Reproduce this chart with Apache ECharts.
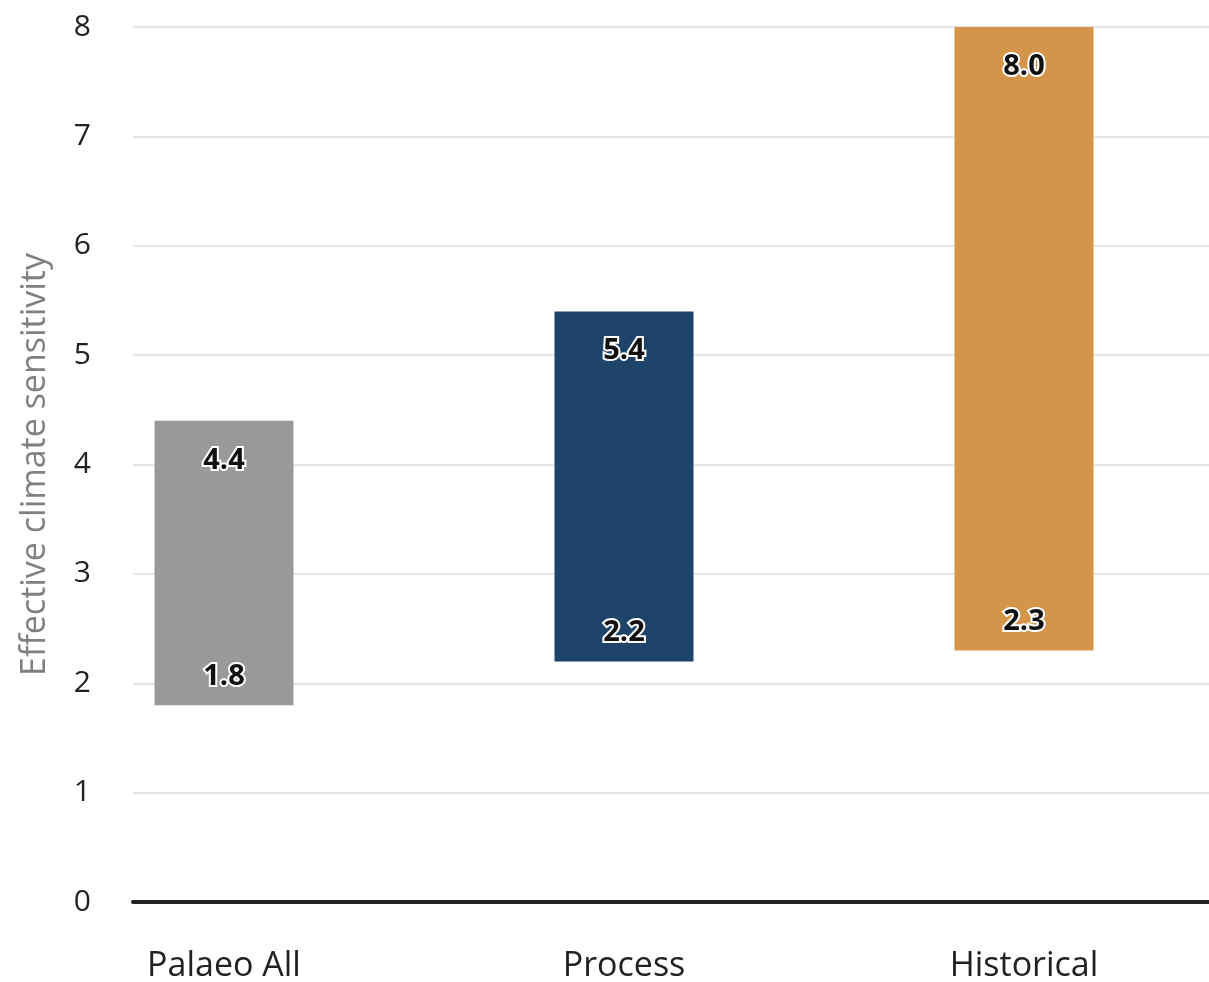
<!DOCTYPE html>
<html>
<head>
<meta charset="utf-8">
<script src="https://cdn.jsdelivr.net/npm/echarts@6/dist/echarts.min.js"></script>
<style>
  html, body { margin: 0; padding: 0; background: #ffffff; }
  #chart { width: 1209px; height: 982px; }
</style>
</head>
<body>
<div id="chart"></div>
<script>
// Ranges of effective climate sensitivity by line of evidence
const categories = ['Palaeo All', 'Process', 'Historical'];
const lowValues = [1.8, 2.2, 2.3];
const highValues = [4.4, 5.4, 8.0];
const barColors = ['#999999', '#1f446a', '#d4944a'];
const yTicks = [0, 1, 2, 3, 4, 5, 6, 7, 8];

const FONT = '"Open Sans", "Noto Sans", sans-serif';

const spans = highValues.map((h, i) => +(h - lowValues[i]).toFixed(2));

const labelStyle = {
  show: true,
  color: '#111111',
  fontFamily: FONT,
  fontWeight: 'bold',
  fontSize: 29,
  textBorderColor: '#ffffff',
  textBorderWidth: 4
};

const yMin = yTicks[0];
const yMax = yTicks[yTicks.length - 1];

const chart = echarts.init(document.getElementById('chart'), null, { renderer: 'canvas' });

chart.setOption({
  animation: false,
  backgroundColor: '#ffffff',
  grid: [
    { left: 133, right: 0, top: 27, bottom: 80, outerBoundsMode: 'none', containLabel: false },
    { left: 24, right: -15, top: 27, bottom: 80, outerBoundsMode: 'none', containLabel: false }
  ],
  xAxis: [
    {
      gridIndex: 0,
      type: 'category',
      data: categories,
      axisLine: { show: true, lineStyle: { color: '#222222', width: 4 } },
      axisTick: { show: false },
      axisLabel: { show: false },
      splitLine: { show: false }
    },
    {
      gridIndex: 1,
      type: 'category',
      data: categories,
      axisLine: { show: false },
      axisTick: { show: false },
      axisLabel: {
        color: '#222222',
        fontFamily: FONT,
        fontSize: 34,
        margin: 47
      }
    }
  ],
  yAxis: [
    {
      gridIndex: 0,
      type: 'value',
      min: yMin,
      max: yMax,
      interval: 1,
      name: 'Effective climate sensitivity',
      nameLocation: 'middle',
      nameGap: 81,
      nameTextStyle: { color: '#808080', fontFamily: FONT, fontSize: 34 },
      axisLine: { show: false },
      axisTick: { show: false },
      axisLabel: {
        color: '#222222',
        fontFamily: FONT,
        fontSize: 30,
        margin: 42,
        padding: [4, 0, 0, 0],
        formatter: v => String(v)
      },
      splitLine: { show: true, lineStyle: { color: '#e4e4e4', width: 2 } }
    },
    {
      gridIndex: 1,
      type: 'value',
      min: yMin,
      max: yMax,
      interval: 1,
      show: false,
      splitLine: { show: false }
    }
  ],
  series: [
    // invisible base up to the low end of each range
    {
      type: 'bar',
      xAxisIndex: 1,
      yAxisIndex: 1,
      stack: 'range',
      barWidth: 139,
      silent: true,
      itemStyle: { color: 'transparent' },
      data: lowValues
    },
    // visible range bar, labelled with its upper bound
    {
      type: 'bar',
      xAxisIndex: 1,
      yAxisIndex: 1,
      stack: 'range',
      barWidth: 139,
      data: spans.map((s, i) => ({ value: s, itemStyle: { color: barColors[i] } })),
      label: Object.assign({}, labelStyle, {
        position: 'insideTop',
        distance: 25,
        formatter: p => highValues[p.dataIndex].toFixed(1)
      })
    },
    // overlaid transparent copy, labelled with the lower bound
    {
      type: 'bar',
      xAxisIndex: 1,
      yAxisIndex: 1,
      stack: 'rangeLow',
      barWidth: 139,
      barGap: '-100%',
      silent: true,
      itemStyle: { color: 'transparent' },
      data: lowValues
    },
    {
      type: 'bar',
      xAxisIndex: 1,
      yAxisIndex: 1,
      stack: 'rangeLow',
      barWidth: 139,
      barGap: '-100%',
      silent: true,
      itemStyle: { color: 'transparent' },
      data: spans,
      label: Object.assign({}, labelStyle, {
        position: 'insideBottom',
        distance: 14,
        formatter: p => lowValues[p.dataIndex].toFixed(1)
      })
    }
  ]
});
</script>
</body>
</html>
